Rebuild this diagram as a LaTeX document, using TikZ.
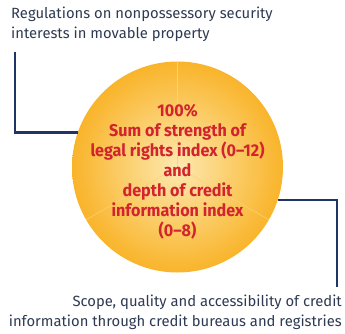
\documentclass[tikz,border=0pt]{standalone}
\usepackage{fontspec}
\setmainfont{Fira Sans}
\newfontfamily\labelfont{Fira Sans}
\newfontfamily\centerfont[FakeStretch=0.95]{Fira Sans Bold}
\definecolor{navy}{HTML}{1F3566}
\definecolor{labelgray}{HTML}{2E3A52}
\definecolor{sunorange}{HTML}{F9B42A}
\definecolor{sunlight}{HTML}{FDE9B0}
\definecolor{textred}{HTML}{D2232E}
\definecolor{seam}{HTML}{FAD27A}
\tikzset{
  lbl/.style={inner sep=0pt, text=labelgray, font=\labelfont\fontsize{14.8}{19.5}\selectfont},
  link/.style={draw=navy, line width=2.2pt},
  sector/.style={draw=seam, line width=0.5pt},
}
\begin{document}
\begin{tikzpicture}[x=1pt,y=1pt]
\useasboundingbox (0,0) rectangle (345,-333);
\node[circle, minimum size=211pt, inner sep=0pt, inner color=sunlight, outer color=sunorange] (circ) at (177.5,-167) {};
\draw[sector] (circ.center) -- (circ.90);
\draw[sector] (circ.center) -- (circ.210);
\draw[sector] (circ.center) -- (circ.330);
\node[inner sep=0pt, align=center, text=textred, font=\centerfont\fontsize{17}{20}\selectfont] (ctext) at (177.5,-172)
  {100\%\\Sum of strength of\\legal rights index (0–12)\\and\\depth of credit\\information index\\(0–8)};
\node[lbl, anchor=north west, align=left] (top) at (11,-7) {Regulations on nonpossessory security\\interests in movable property};
\node[lbl, anchor=north east, align=right] (bot) at (342,-295) {Scope, quality and accessibility of credit\\information through credit bureaus and registries};
\coordinate (tl) at (15,-52);
\coordinate (br) at (337,-287);
\draw[link] (tl) |- (circ.161.7);
\draw[link] (circ.342.8) -| (br);
\end{tikzpicture}
\end{document}
